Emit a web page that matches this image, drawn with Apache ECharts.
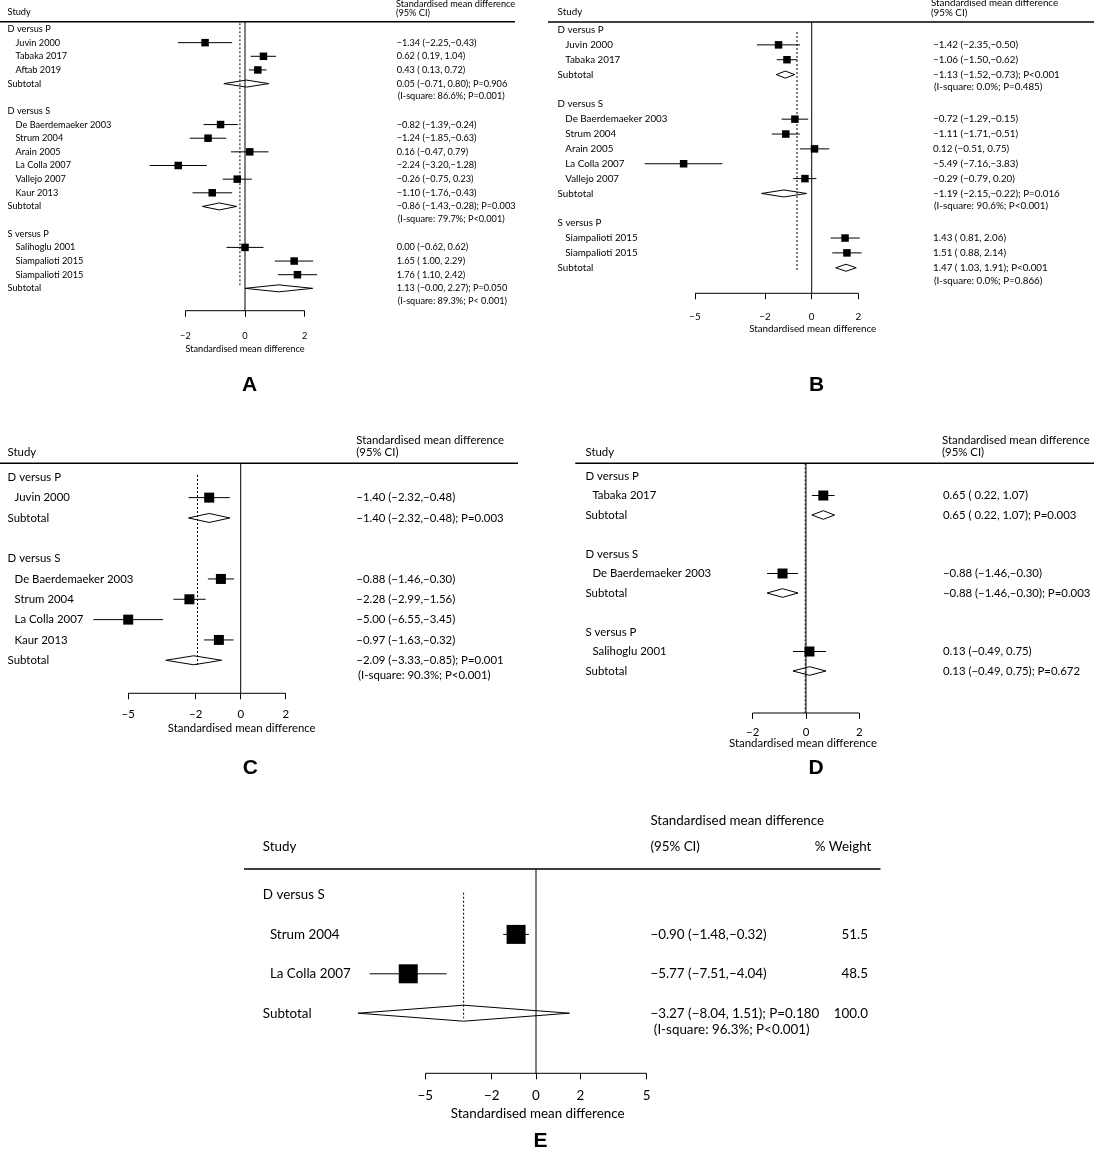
<!DOCTYPE html>
<html>
<head>
<meta charset="utf-8">
<script src="https://cdn.jsdelivr.net/npm/echarts@6/dist/echarts.min.js"></script>
<style>html,body{margin:0;padding:0;background:#fff;}</style>
</head>
<body>
<div id="forest" style="width:1094px;height:1149px;"></div>
<script type="text/javascript">
// ---------- panel A ----------
var groupsA = ['D versus P', 'D versus S', 'S versus P'];
var groupSizeA = [3, 6, 3];
var studiesA = ['Juvin 2000', 'Tabaka 2017', 'Aftab 2019', 'De Baerdemaeker 2003', 'Strum 2004', 'Arain 2005',
    'La Colla 2007', 'Vallejo 2007', 'Kaur 2013', 'Salihoglu 2001', 'Siampalioti 2015', 'Siampalioti 2015'];
var smdA = [-1.34, 0.62, 0.43, -0.82, -1.24, 0.16, -2.24, -0.26, -1.10, 0.00, 1.65, 1.76];
var lowA = [-2.25, 0.19, 0.13, -1.39, -1.85, -0.47, -3.20, -0.75, -1.76, -0.62, 1.00, 1.10];
var highA = [-0.43, 1.04, 0.72, -0.24, -0.63, 0.79, -1.28, 0.23, -0.43, 0.62, 2.29, 2.42];
var subSmdA = [0.05, -0.86, 1.13];
var subLowA = [-0.71, -1.43, -0.00];
var subHighA = [0.80, -0.28, 2.27];
var subPA = ['P=0.906', 'P=0.003', 'P=0.050'];
var hetA = ['I-square: 86.6%; P=0.001', 'I-square: 79.7%; P<0.001', 'I-square: 89.3%; P< 0.001'];
var ticksA = [-2, 0, 2];
var pooledA = -0.17;

// ---------- panel B ----------
var groupsB = ['D versus P', 'D versus S', 'S versus P'];
var groupSizeB = [2, 5, 2];
var studiesB = ['Juvin 2000', 'Tabaka 2017', 'De Baerdemaeker 2003', 'Strum 2004', 'Arain 2005',
    'La Colla 2007', 'Vallejo 2007', 'Siampalioti 2015', 'Siampalioti 2015'];
var smdB = [-1.42, -1.06, -0.72, -1.11, 0.12, -5.49, -0.29, 1.43, 1.51];
var lowB = [-2.35, -1.50, -1.29, -1.71, -0.51, -7.16, -0.79, 0.81, 0.88];
var highB = [-0.50, -0.62, -0.15, -0.51, 0.75, -3.83, 0.20, 2.06, 2.14];
var subSmdB = [-1.13, -1.19, 1.47];
var subLowB = [-1.52, -2.15, 1.03];
var subHighB = [-0.73, -0.22, 1.91];
var subPB = ['P<0.001', 'P=0.016', 'P<0.001'];
var hetB = ['I-square: 0.0%; P=0.485', 'I-square: 90.6%; P<0.001', 'I-square: 0.0%; P=0.866'];
var ticksB = [-5, -2, 0, 2];
var pooledB = -0.63;

// ---------- panel C ----------
var groupsC = ['D versus P', 'D versus S'];
var groupSizeC = [1, 4];
var studiesC = ['Juvin 2000', 'De Baerdemaeker 2003', 'Strum 2004', 'La Colla 2007', 'Kaur 2013'];
var smdC = [-1.40, -0.88, -2.28, -5.00, -0.97];
var lowC = [-2.32, -1.46, -2.99, -6.55, -1.63];
var highC = [-0.48, -0.30, -1.56, -3.45, -0.32];
var subSmdC = [-1.40, -2.09];
var subLowC = [-2.32, -3.33];
var subHighC = [-0.48, -0.85];
var subPC = ['P=0.003', 'P=0.001'];
var hetC = [null, 'I-square: 90.3%; P<0.001'];
var ticksC = [-5, -2, 0, 2];
var pooledC = -1.92;

// ---------- panel D ----------
var groupsD = ['D versus P', 'D versus S', 'S versus P'];
var groupSizeD = [1, 1, 1];
var studiesD = ['Tabaka 2017', 'De Baerdemaeker 2003', 'Salihoglu 2001'];
var smdD = [0.65, -0.88, 0.13];
var lowD = [0.22, -1.46, -0.49];
var highD = [1.07, -0.30, 0.75];
var subSmdD = [0.65, -0.88, 0.13];
var subLowD = [0.22, -1.46, -0.49];
var subHighD = [1.07, -0.30, 0.75];
var subPD = ['P=0.003', 'P=0.003', 'P=0.672'];
var ticksD = [-2, 0, 2];
var pooledD = -0.03;

// ---------- panel E ----------
var groupsE = ['D versus S'];
var groupSizeE = [2];
var studiesE = ['Strum 2004', 'La Colla 2007'];
var smdE = [-0.90, -5.77];
var lowE = [-1.48, -7.51];
var highE = [-0.32, -4.04];
var weightE = [51.5, 48.5];
var subSmdE = [-3.27];
var subLowE = [-8.04];
var subHighE = [1.51];
var subPE = ['P=0.180'];
var hetE = ['I-square: 96.3%; P<0.001'];
var subWeightE = [100.0];
var ticksE = [-5, -2, 0, 2, 5];
var pooledE = -3.27;

// 版面（像素）
var layouts = [
    {x0: 245, pxu: 29.8, xMin: -3.6, xMax: 3.0, row0: 29, step: 13.65, headY: 21.7, hLine: [0, 515],
        axisY: 310.7, margin: 21, titleY: 349.3, titleDX: 0, font: 9.2, groupX: 7.6, studyX: 15.5,
        textX: 396.7, hetDX: 1, hetDY: 12.4, hdrX: 396, hdrY: [4, 12.7], studyHdrY: 12,
        dot: [23.3, 287.3], sq: 7.5, dia: 3.5, letter: 'A', letterX: 249.7, letterY: 385.7},
    {x0: 811.7, pxu: 23.33, xMin: -7.5, xMax: 2.5, row0: 30, step: 14.86, headY: 22, hLine: [548, 1094],
        axisY: 293.3, margin: 19, titleY: 329.3, titleDX: 1, font: 9.8, groupX: 557.6, studyX: 565.3,
        textX: 933, hetDX: 1, hetDY: 12.6, hdrX: 931, hdrY: [3, 13], studyHdrY: 12,
        dot: [32, 271.7], sq: 7.5, dia: 3.5, letter: 'B', letterX: 816.5, letterY: 385},
    {x0: 240.7, pxu: 22.5, xMin: -7, xMax: 2.5, row0: 477.3, step: 20.33, headY: 463.3, hLine: [0, 518],
        axisY: 693.3, margin: 15.5, titleY: 728.3, titleDX: 1, font: 11.4, groupX: 7.6, studyX: 14.6,
        textX: 356.3, hetDX: 1.7, hetDY: 15, hdrX: 356.3, hdrY: [440, 452.3], studyHdrY: 452,
        dot: [475, 665], sq: 10, dia: 4.5, letter: 'C', letterX: 250.3, letterY: 768.3},
    {x0: 806, pxu: 26.65, xMin: -2.5, xMax: 2.5, row0: 476, step: 19.5, headY: 463.3, hLine: [575.3, 1094],
        axisY: 713, margin: 14, titleY: 743.3, titleDX: -3, font: 11.4, groupX: 585.5, studyX: 592.4,
        textX: 943, hetDX: 0, hetDY: 0, hdrX: 942, hdrY: [440, 452.3], studyHdrY: 452,
        dot: [463.3, 713], sq: 10, dia: 4.3, letter: 'D', letterX: 816.1, letterY: 768},
    {x0: 536, pxu: 22.14, xMin: -8.5, xMax: 5.5, row0: 895, step: 39.4, headY: 869, hLine: [244, 880.5],
        axisY: 1073.3, margin: 16, titleY: 1113.3, titleDX: 1.7, font: 13.4, groupX: 262.8, studyX: 269.9,
        textX: 650.4, hetDX: 3.4, hetDY: 16.7, hdrX: 650.4, hdrY: [821, 846.7], studyHdrY: 846.7,
        weightX: 868, weightHdrX: 871.4,
        dot: [892.7, 1018.3], sq: 19, dia: 8, letter: 'E', letterX: 540.6, letterY: 1141.7}
];

var panels = [
    {groups: groupsA, sizes: groupSizeA, studies: studiesA, smd: smdA, low: lowA, high: highA,
        subSmd: subSmdA, subLow: subLowA, subHigh: subHighA, subP: subPA, het: hetA, ticks: ticksA, pooled: pooledA},
    {groups: groupsB, sizes: groupSizeB, studies: studiesB, smd: smdB, low: lowB, high: highB,
        subSmd: subSmdB, subLow: subLowB, subHigh: subHighB, subP: subPB, het: hetB, ticks: ticksB, pooled: pooledB},
    {groups: groupsC, sizes: groupSizeC, studies: studiesC, smd: smdC, low: lowC, high: highC,
        subSmd: subSmdC, subLow: subLowC, subHigh: subHighC, subP: subPC, het: hetC, ticks: ticksC, pooled: pooledC},
    {groups: groupsD, sizes: groupSizeD, studies: studiesD, smd: smdD, low: lowD, high: highD,
        subSmd: subSmdD, subLow: subLowD, subHigh: subHighD, subP: subPD, het: null, ticks: ticksD, pooled: pooledD},
    {groups: groupsE, sizes: groupSizeE, studies: studiesE, smd: smdE, low: lowE, high: highE, weight: weightE,
        subSmd: subSmdE, subLow: subLowE, subHigh: subHighE, subP: subPE, het: hetE, subWeight: subWeightE,
        ticks: ticksE, pooled: pooledE}
];

var MINUS = '\u2212';
function isNeg(v) { return v < 0 || Object.is(v, -0); }
function num(v) { return (isNeg(v) ? MINUS : '') + Math.abs(v).toFixed(2); }
function ci(lo, hi) {
    return '(' + (isNeg(lo) ? num(lo) : ' ' + num(lo)) + ',' + (isNeg(hi) ? num(hi) : ' ' + num(hi)) + ')';
}

function buildRows(d) {
    var rows = [], r = 0, k = 0;
    d.groups.forEach(function (g, gi) {
        rows.push({kind: 'group', row: r, label: g});
        r++;
        for (var j = 0; j < d.sizes[gi]; j++, k++) {
            rows.push({kind: 'study', row: r, label: d.studies[k], est: d.smd[k], lo: d.low[k], hi: d.high[k],
                w: d.weight ? d.weight[k] : null});
            r++;
        }
        rows.push({kind: 'sub', row: r, label: 'Subtotal', est: d.subSmd[gi], lo: d.subLow[gi], hi: d.subHigh[gi],
            p: d.subP[gi], het: d.het ? d.het[gi] : null, w: d.subWeight ? d.subWeight[gi] : null});
        r += 2;
    });
    rows.push({kind: 'frame', row: 0});
    return rows;
}

function txt(x, y, s, font, align) {
    align = align || 'left';
    return {type: 'text', x: x, y: y, silent: true,
        style: {text: s, font: font, fill: '#000', textAlign: align, align: align,
            textVerticalAlign: 'middle', verticalAlign: 'middle'}};
}
function seg(x1, y1, x2, y2, w, dash) {
    var st = {stroke: '#000', lineWidth: w || 1};
    if (dash) st.lineDash = dash;
    return {type: 'line', shape: {x1: x1, y1: y1, x2: x2, y2: y2}, style: st};
}

var grids = [], xAxes = [], yAxes = [], series = [];

panels.forEach(function (d, i) {
    var L = layouts[i];
    var rows = buildRows(d);
    var yMin = (L.headY - L.row0) / L.step;
    var yMax = (L.axisY - L.row0) / L.step;
    var font = L.font + 'px Lato';

    grids.push({
        left: L.x0 + L.xMin * L.pxu, width: (L.xMax - L.xMin) * L.pxu,
        top: L.headY, height: L.axisY - L.headY,
        containLabel: false, outerBoundsMode: 'none'
    });
    xAxes.push({
        gridIndex: i, type: 'value', position: 'bottom', min: L.xMin, max: L.xMax,
        axisLine: {show: false, onZero: false}, splitLine: {show: false},
        axisTick: {show: true, inside: false, length: 6, customValues: d.ticks, lineStyle: {color: '#000', width: 1}},
        axisLabel: {
            customValues: d.ticks, margin: L.margin, color: '#000', fontFamily: 'Lato', fontSize: L.font,
            formatter: function (v) { return v < 0 ? MINUS + (-v) : String(v); }
        }
    });
    yAxes.push({gridIndex: i, type: 'value', inverse: true, min: yMin, max: yMax, show: false});

    series.push({
        type: 'custom', xAxisIndex: i, yAxisIndex: i, clip: false, silent: true,
        encode: {x: 0, y: 1},
        data: rows.map(function (r) { return [r.est == null ? 0 : r.est, r.row]; }),
        renderItem: function (params, api) {
            var row = rows[params.dataIndex];
            var ch = [];
            if (row.kind === 'frame') {
                var z0 = api.coord([0, yMax]);
                var zTop = api.coord([0, yMin]);
                var t0 = api.coord([d.ticks[0], yMax]);
                var t1 = api.coord([d.ticks[d.ticks.length - 1], yMax]);
                var pl = api.coord([d.pooled, yMax]);
                ch.push(seg(L.hLine[0], L.headY, L.hLine[1], L.headY, 1.5));
                ch.push(seg(z0[0], zTop[1], z0[0], z0[1], 1));
                ch.push(seg(pl[0], L.dot[0], pl[0], L.dot[1], 1, [2, 2]));
                ch.push(seg(t0[0], L.axisY, t1[0], L.axisY, 1));
                ch.push(txt(L.groupX, L.studyHdrY, 'Study', font));
                ch.push(txt(L.hdrX, L.hdrY[0], 'Standardised mean difference', font));
                ch.push(txt(L.hdrX, L.hdrY[1], '(95% CI)', font));
                if (L.weightHdrX) ch.push(txt(L.weightHdrX, L.hdrY[1], '% Weight', font, 'right'));
                ch.push(txt(z0[0] + L.titleDX, L.titleY, 'Standardised mean difference', font, 'center'));
                ch.push(txt(L.letterX, L.letterY, L.letter, 'bold 21px "Liberation Sans"', 'center'));
                return {type: 'group', children: ch};
            }
            var y = api.coord([0, row.row])[1];
            if (row.kind === 'group') {
                ch.push(txt(L.groupX, y, row.label, font));
                return {type: 'group', children: ch};
            }
            var a = api.coord([row.lo, row.row]);
            var b = api.coord([row.hi, row.row]);
            var c = api.coord([row.est, row.row]);
            var label = num(row.est) + ' ' + ci(row.lo, row.hi);
            if (row.kind === 'study') {
                ch.push(txt(L.studyX, y, row.label, font));
                ch.push(seg(a[0], y, b[0], y, 1));
                ch.push({type: 'rect', shape: {x: c[0] - L.sq / 2, y: y - L.sq / 2, width: L.sq, height: L.sq},
                    style: {fill: '#000'}});
            } else {
                ch.push(txt(L.groupX, y, row.label, font));
                ch.push({type: 'polygon',
                    shape: {points: [[a[0], y], [c[0], y - L.dia], [b[0], y], [c[0], y + L.dia]]},
                    style: {fill: '#fff', stroke: '#000', lineWidth: 1}});
                label += '; ' + row.p;
                if (row.het) ch.push(txt(L.textX + L.hetDX, y + L.hetDY, '(' + row.het + ')', font));
            }
            ch.push(txt(L.textX, y, label, font));
            if (row.w != null && L.weightX) ch.push(txt(L.weightX, y, row.w.toFixed(1), font, 'right'));
            return {type: 'group', children: ch};
        }
    });
});

var myChart = echarts.init(document.getElementById('forest'));
myChart.setOption({
    animation: false,
    backgroundColor: '#fff',
    textStyle: {fontFamily: 'Lato'},
    grid: grids,
    xAxis: xAxes,
    yAxis: yAxes,
    series: series
});
</script>
</body>
</html>
